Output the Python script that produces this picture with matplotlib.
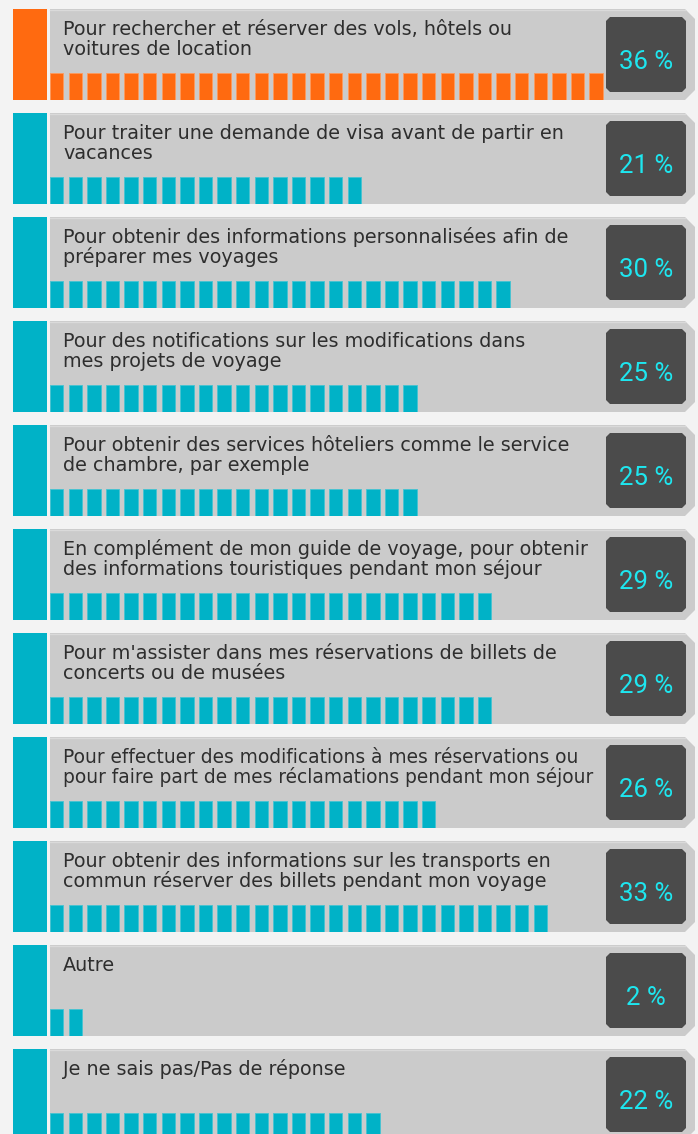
import numpy as np
import matplotlib
matplotlib.use("Agg")
import matplotlib.pyplot as plt
from matplotlib.patches import Rectangle, Polygon

# data
labels = [
    ["Pour rechercher et réserver des vols, hôtels ou", "voitures de location"],
    ["Pour traiter une demande de visa avant de partir en", "vacances"],
    ["Pour obtenir des informations personnalisées afin de", "préparer mes voyages"],
    ["Pour des notifications sur les modifications dans", "mes projets de voyage"],
    ["Pour obtenir des services hôteliers comme le service", "de chambre, par exemple"],
    ["En complément de mon guide de voyage, pour obtenir", "des informations touristiques pendant mon séjour"],
    ["Pour m'assister dans mes réservations de billets de", "concerts ou de musées"],
    ["Pour effectuer des modifications à mes réservations ou", "pour faire part de mes réclamations pendant mon séjour"],
    ["Pour obtenir des informations sur les transports en", "commun réserver des billets pendant mon voyage"],
    ["Autre"],
    ["Je ne sais pas/Pas de réponse"],
]
values = [36, 21, 30, 25, 25, 29, 29, 26, 33, 2, 22]
highlight = [True] + [False] * 10

W, H = 698, 1134
ORANGE = "#ff6a10"
TEAL = "#00b2c7"
PANEL = "#cbcbcb"
DARK = "#4b4b4b"
CYAN = "#1ee6ef"
BG = "#f3f3f3"

plt.rcParams['font.family'] = ['DejaVu Sans']

fig = plt.figure(figsize=(W / 100, H / 100), dpi=100)
fig.patch.set_facecolor(BG)
ax = fig.add_axes([0, 0, 1, 1])
ax.set_xlim(0, W)
ax.set_ylim(H, 0)
ax.axis("off")
renderer = fig.canvas.get_renderer()

row_pitch = 104
row_h = 91
bar_h = 27
px_per_pct = 15.3
seg_pitch = 18.6 / px_per_pct
seg_w = 13.3 / px_per_pct
panel_x0, panel_x1 = 50, 695
label_size = 13.8
max_label_w = 528

for i, (lines, v) in enumerate(zip(labels, values)):
    top = 9 + row_pitch * i
    col = ORANGE if highlight[i] else TEAL
    edge = "#ff9a5c" if highlight[i] else "#45c3d2"

    # left strip
    ax.add_patch(Rectangle((13, top), 34, row_h, color=col, lw=0))
    # grey panel with chamfered right corners
    ax.add_patch(Polygon([(panel_x0, top), (685, top), (panel_x1, top + 10),
                          (panel_x1, top + 81), (685, top + row_h), (panel_x0, top + row_h)],
                         closed=True, color=PANEL, lw=0))
    ax.plot([panel_x0, 685], [top + 0.5, top + 0.5], color="#dadada", lw=1)
    # dark value box
    bx0, bx1, by0, by1, c = 606, 686, top + 8, top + 83, 4
    ax.add_patch(Polygon([(bx0 + c, by0), (bx1 - c, by0), (bx1, by0 + c), (bx1, by1 - c),
                          (bx1 - c, by1), (bx0 + c, by1), (bx0, by1 - c), (bx0, by0 + c)],
                         closed=True, color=DARK, lw=0))
    ax.text((bx0 + bx1) / 2, top + 60, f"{v} %", color=CYAN, fontsize=18.5,
            family=['Roboto', 'DejaVu Sans'], ha="center", va="baseline")

    # label lines (shrink the row a bit if it would run into the box)
    txts = [ax.text(63, top + 26 + 20 * k, line, color="#2e2e2e", fontsize=label_size,
                    ha="left", va="baseline") for k, line in enumerate(lines)]
    widest = max(t.get_window_extent(renderer).width for t in txts)
    if widest > max_label_w:
        for t in txts:
            t.set_fontsize(label_size * max_label_w / widest)

    # segmented bar
    bax = fig.add_axes([panel_x0 / W, 1 - (top + row_h) / H,
                        (panel_x1 - panel_x0) / W, bar_h / H])
    bax.set_xlim(0, (panel_x1 - panel_x0) / px_per_pct)
    bax.set_ylim(0, 1)
    bax.axis("off")
    n = max(1, int(round(v / 1.22)))
    bax.bar(np.arange(n) * seg_pitch, 1, width=seg_w, align="edge",
            color=col, edgecolor=edge, linewidth=0.6)

fig.savefig("out.png", dpi=100, facecolor=BG)
